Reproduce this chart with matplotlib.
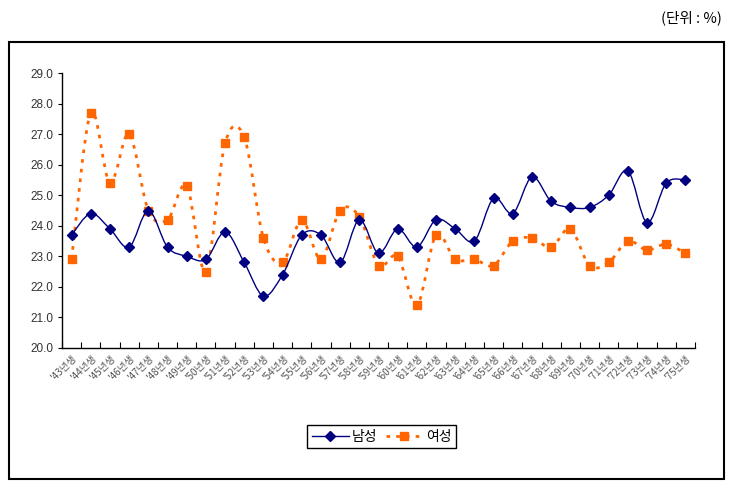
import numpy as np
import matplotlib
matplotlib.use("Agg")
import matplotlib.pyplot as plt
from matplotlib.path import Path
from matplotlib.patches import PathPatch, Rectangle
from matplotlib.lines import Line2D

plt.rcParams["font.family"] = ["Noto Sans CJK KR", "DejaVu Sans"]

# data
years = list(range(43, 76))
labels = ["'%d년생" % y for y in years]
men = [23.7, 24.4, 23.9, 23.3, 24.5, 23.3, 23.0, 22.9, 23.8, 22.8,
       21.7, 22.4, 23.7, 23.7, 22.8, 24.2, 23.1, 23.9, 23.3, 24.2,
       23.9, 23.5, 24.9, 24.4, 25.6, 24.8, 24.6, 24.6, 25.0, 25.8,
       24.1, 25.4, 25.5]
women = [22.9, 27.7, 25.4, 27.0, 24.5, 24.2, 25.3, 22.5, 26.7, 26.9,
         23.6, 22.8, 24.2, 22.9, 24.5, 24.3, 22.7, 23.0, 21.4, 23.7,
         22.9, 22.9, 22.7, 23.5, 23.6, 23.3, 23.9, 22.7, 22.8, 23.5,
         23.2, 23.4, 23.1]
yticks = np.arange(20.0, 29.5, 1.0)

men_color = "#000080"
women_color = "#FF6600"


def smooth_path(xs, ys):
    # Bezier segments through the points, like a spreadsheet "smoothed line"
    pts = np.column_stack([xs, ys]).astype(float)
    n = len(pts)
    verts = [pts[0]]
    codes = [Path.MOVETO]
    for i in range(n - 1):
        p0 = pts[i - 1] if i > 0 else pts[i]
        p1 = pts[i]
        p2 = pts[i + 1]
        p3 = pts[i + 2] if i + 2 < n else pts[i + 1]
        c1 = p1 + (p2 - p0) / 6.0
        c2 = p2 - (p3 - p1) / 6.0
        verts += [c1, c2, p2]
        codes += [Path.CURVE4] * 3
    return Path(verts, codes)


fig = plt.figure(figsize=(7.37, 4.95), dpi=100)
ax = fig.add_axes([62 / 737, 1 - 348 / 495, (695 - 62) / 737, (348 - 73) / 495])

x = np.arange(len(years))

ax.add_patch(PathPatch(smooth_path(x, women), fill=False, edgecolor=women_color,
                       lw=2.0, linestyle=(0, (1.3, 2.2)), zorder=2))
ax.plot(x, women, linestyle="none", marker="s", ms=5.5, color=women_color,
        zorder=3)

ax.add_patch(PathPatch(smooth_path(x, men), fill=False, edgecolor=men_color,
                       lw=1.0, zorder=4))
ax.plot(x, men, linestyle="none", marker="D", ms=4.8, color=men_color, zorder=5)

ax.set_xlim(-0.5, len(years) - 0.5)
ax.set_ylim(20, 29)
ax.set_yticks(yticks)
ax.set_yticklabels(["%.1f" % v for v in yticks], family="Liberation Sans",
                   fontsize=8.5, color="#333333")
ax.tick_params(axis="y", direction="out", length=3, width=0.8, pad=3)

ax.set_xticks(x)
ax.set_xticklabels(labels, rotation=45, ha="right", va="top",
                   rotation_mode="anchor", fontsize=7, color="#555555")
ax.set_xticks(np.arange(-0.5, len(years)), minor=True)
ax.tick_params(axis="x", which="major", length=0, pad=4)
ax.tick_params(axis="x", which="minor", direction="in", length=4, width=0.8)

for s in ["top", "right"]:
    ax.spines[s].set_visible(False)
ax.spines["left"].set_linewidth(1.0)
ax.spines["bottom"].set_linewidth(1.0)

handles = [
    Line2D([], [], color=men_color, lw=1.0, marker="D", ms=4.8),
    Line2D([], [], color=women_color, lw=2.0, linestyle=(0, (1.3, 2.2)),
           marker="s", ms=5.5),
]
leg = fig.legend(handles, ["남성", "여성"], loc="center",
                 bbox_to_anchor=(381.5 / 737, 1 - 436.5 / 495), ncol=2,
                 fontsize=10, frameon=True, fancybox=False, framealpha=1,
                 edgecolor="black", handlelength=2.7, columnspacing=0.6,
                 handletextpad=0.2, borderpad=0.35, borderaxespad=0)
leg.get_frame().set_linewidth(1.0)

fig.patches.append(Rectangle((9 / 737, 1 - 479 / 495), (724 - 9) / 737,
                             (479 - 42) / 495, transform=fig.transFigure,
                             fill=False, edgecolor="black", lw=1.5))

fig.text(722 / 737, 1 - 18 / 495, "(단위 : %)", ha="right", va="center",
         fontsize=10.5, color="black")

fig.savefig("out.png", dpi=100)
